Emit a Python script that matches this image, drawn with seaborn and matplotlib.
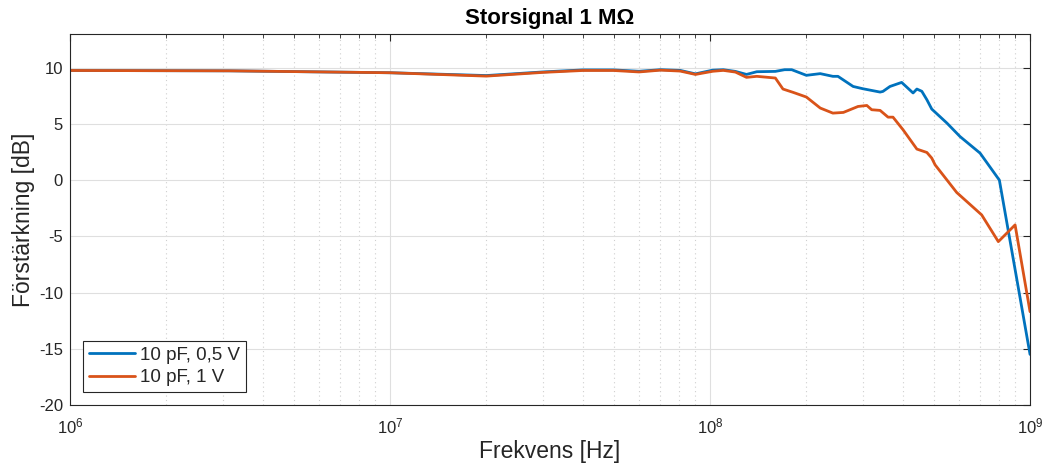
import numpy as np
import pandas as pd
import matplotlib
matplotlib.use("Agg")
import matplotlib.pyplot as plt
import matplotlib.ticker as mticker
import seaborn as sns

# Data (frequency in Hz, gain in dB)
freq_05 = [1e6, 3.16e6, 1e7, 2.0e7, 3.0e7, 4.0e7, 5.0e7, 6.0e7, 7.0e7, 8.06e7, 9.0e7,
           1.02e8, 1.1e8, 1.2e8, 1.3e8, 1.4e8, 1.6e8, 1.71e8, 1.8e8, 2.0e8, 2.21e8,
           2.42e8, 2.51e8, 2.8e8, 3.0e8, 3.4e8, 3.47e8, 3.65e8, 3.97e8, 4.31e8,
           4.43e8, 4.59e8, 4.76e8, 4.93e8, 5.5e8, 6.04e8, 6.98e8, 8.02e8, 1e9]
gain_05 = [9.75, 9.72, 9.55, 9.3, 9.62, 9.8, 9.8, 9.68, 9.82, 9.76, 9.45,
           9.78, 9.82, 9.67, 9.4, 9.64, 9.67, 9.82, 9.82, 9.32, 9.47,
           9.23, 9.23, 8.33, 8.13, 7.83, 7.89, 8.33, 8.69, 7.75,
           8.1, 7.9, 7.15, 6.32, 5.07, 3.88, 2.4, 0.0, -15.5]

freq_1 = [1e6, 3.16e6, 1e7, 2.0e7, 3.0e7, 4.0e7, 5.0e7, 6.0e7, 7.0e7, 8.06e7, 9.0e7,
          1.02e8, 1.1e8, 1.2e8, 1.3e8, 1.4e8, 1.6e8, 1.69e8, 1.82e8, 2.0e8, 2.21e8,
          2.42e8, 2.61e8, 2.9e8, 3.09e8, 3.2e8, 3.4e8, 3.6e8, 3.73e8, 4.01e8,
          4.43e8, 4.76e8, 4.93e8, 5.05e8, 5.9e8, 7.06e8, 7.96e8, 8.98e8, 1e9]
gain_1 = [9.75, 9.72, 9.55, 9.25, 9.58, 9.75, 9.75, 9.62, 9.78, 9.7, 9.4,
          9.68, 9.76, 9.61, 9.14, 9.23, 9.08, 8.1, 7.8, 7.39, 6.41,
          5.96, 6.02, 6.55, 6.64, 6.26, 6.2, 5.6, 5.6, 4.48,
          2.76, 2.46, 1.96, 1.36, -1.1, -3.09, -5.47, -3.98, -11.7]

labels = ["10 pF, 0,5 V", "10 pF, 1 V"]
colors = ["#0072BD", "#D95319"]
yticks = [-20, -15, -10, -5, 0, 5, 10]

df = pd.concat([
    pd.DataFrame({"f": freq_05, "g": gain_05, "serie": labels[0]}),
    pd.DataFrame({"f": freq_1, "g": gain_1, "serie": labels[1]}),
])

sns.set_style("white")
plt.rcParams["font.family"] = ["Liberation Sans", "DejaVu Sans"]
plt.rcParams["axes.unicode_minus"] = False
plt.rcParams["mathtext.fontset"] = "custom"
plt.rcParams["mathtext.rm"] = "Liberation Sans"

fig = plt.figure(figsize=(10.47, 4.65), dpi=100)
ax = fig.add_axes([0.0669, 0.129, 0.9169, 0.798])

sns.lineplot(data=df, x="f", y="g", hue="serie", palette=colors, linewidth=2,
             ax=ax, sort=False, estimator=None)

ax.set_xscale("log")
ax.set_xlim(1e6, 1e9)
ax.set_ylim(-20, 13)
ax.set_yticks(yticks)
ax.xaxis.set_major_locator(mticker.LogLocator(base=10, numticks=10))
ax.xaxis.set_minor_locator(mticker.LogLocator(base=10, subs=np.arange(2, 10), numticks=20))

ax.grid(True, which="major", color="#DFDFDF", linestyle="-", linewidth=0.8)
ax.grid(True, which="minor", axis="x", color="#CFCFCF", linestyle=(0, (1, 3)), linewidth=0.8)
ax.set_axisbelow(True)

for s in ax.spines.values():
    s.set_visible(True)
    s.set_color("#262626")
    s.set_linewidth(0.8)

ax.tick_params(axis="both", which="both", direction="in", top=True, right=True,
               colors="#262626", labelcolor="#262626")
ax.tick_params(axis="both", which="major", length=5, labelsize=12)
ax.tick_params(axis="y", which="major", pad=5)
ax.tick_params(axis="x", which="major", pad=8)
ax.tick_params(axis="x", which="minor", length=3)

ax.set_xlabel("Frekvens [Hz]", fontsize=16.5, color="#262626", labelpad=3)
ax.set_ylabel("Förstärkning [dB]", fontsize=16.5, color="#262626", labelpad=3)
ax.set_title("Storsignal 1 M\u03A9", fontsize=16, fontweight="bold", pad=7, color="black")

leg = ax.legend(loc="lower left", fontsize=13.5, frameon=True, fancybox=False,
                edgecolor="#262626", framealpha=1, handlelength=2.45,
                handletextpad=0.3, borderaxespad=0.7, labelspacing=0.3, borderpad=0.3)
leg.get_frame().set_linewidth(0.8)
leg.set_title(None)

fig.savefig("out.png", dpi=100)
